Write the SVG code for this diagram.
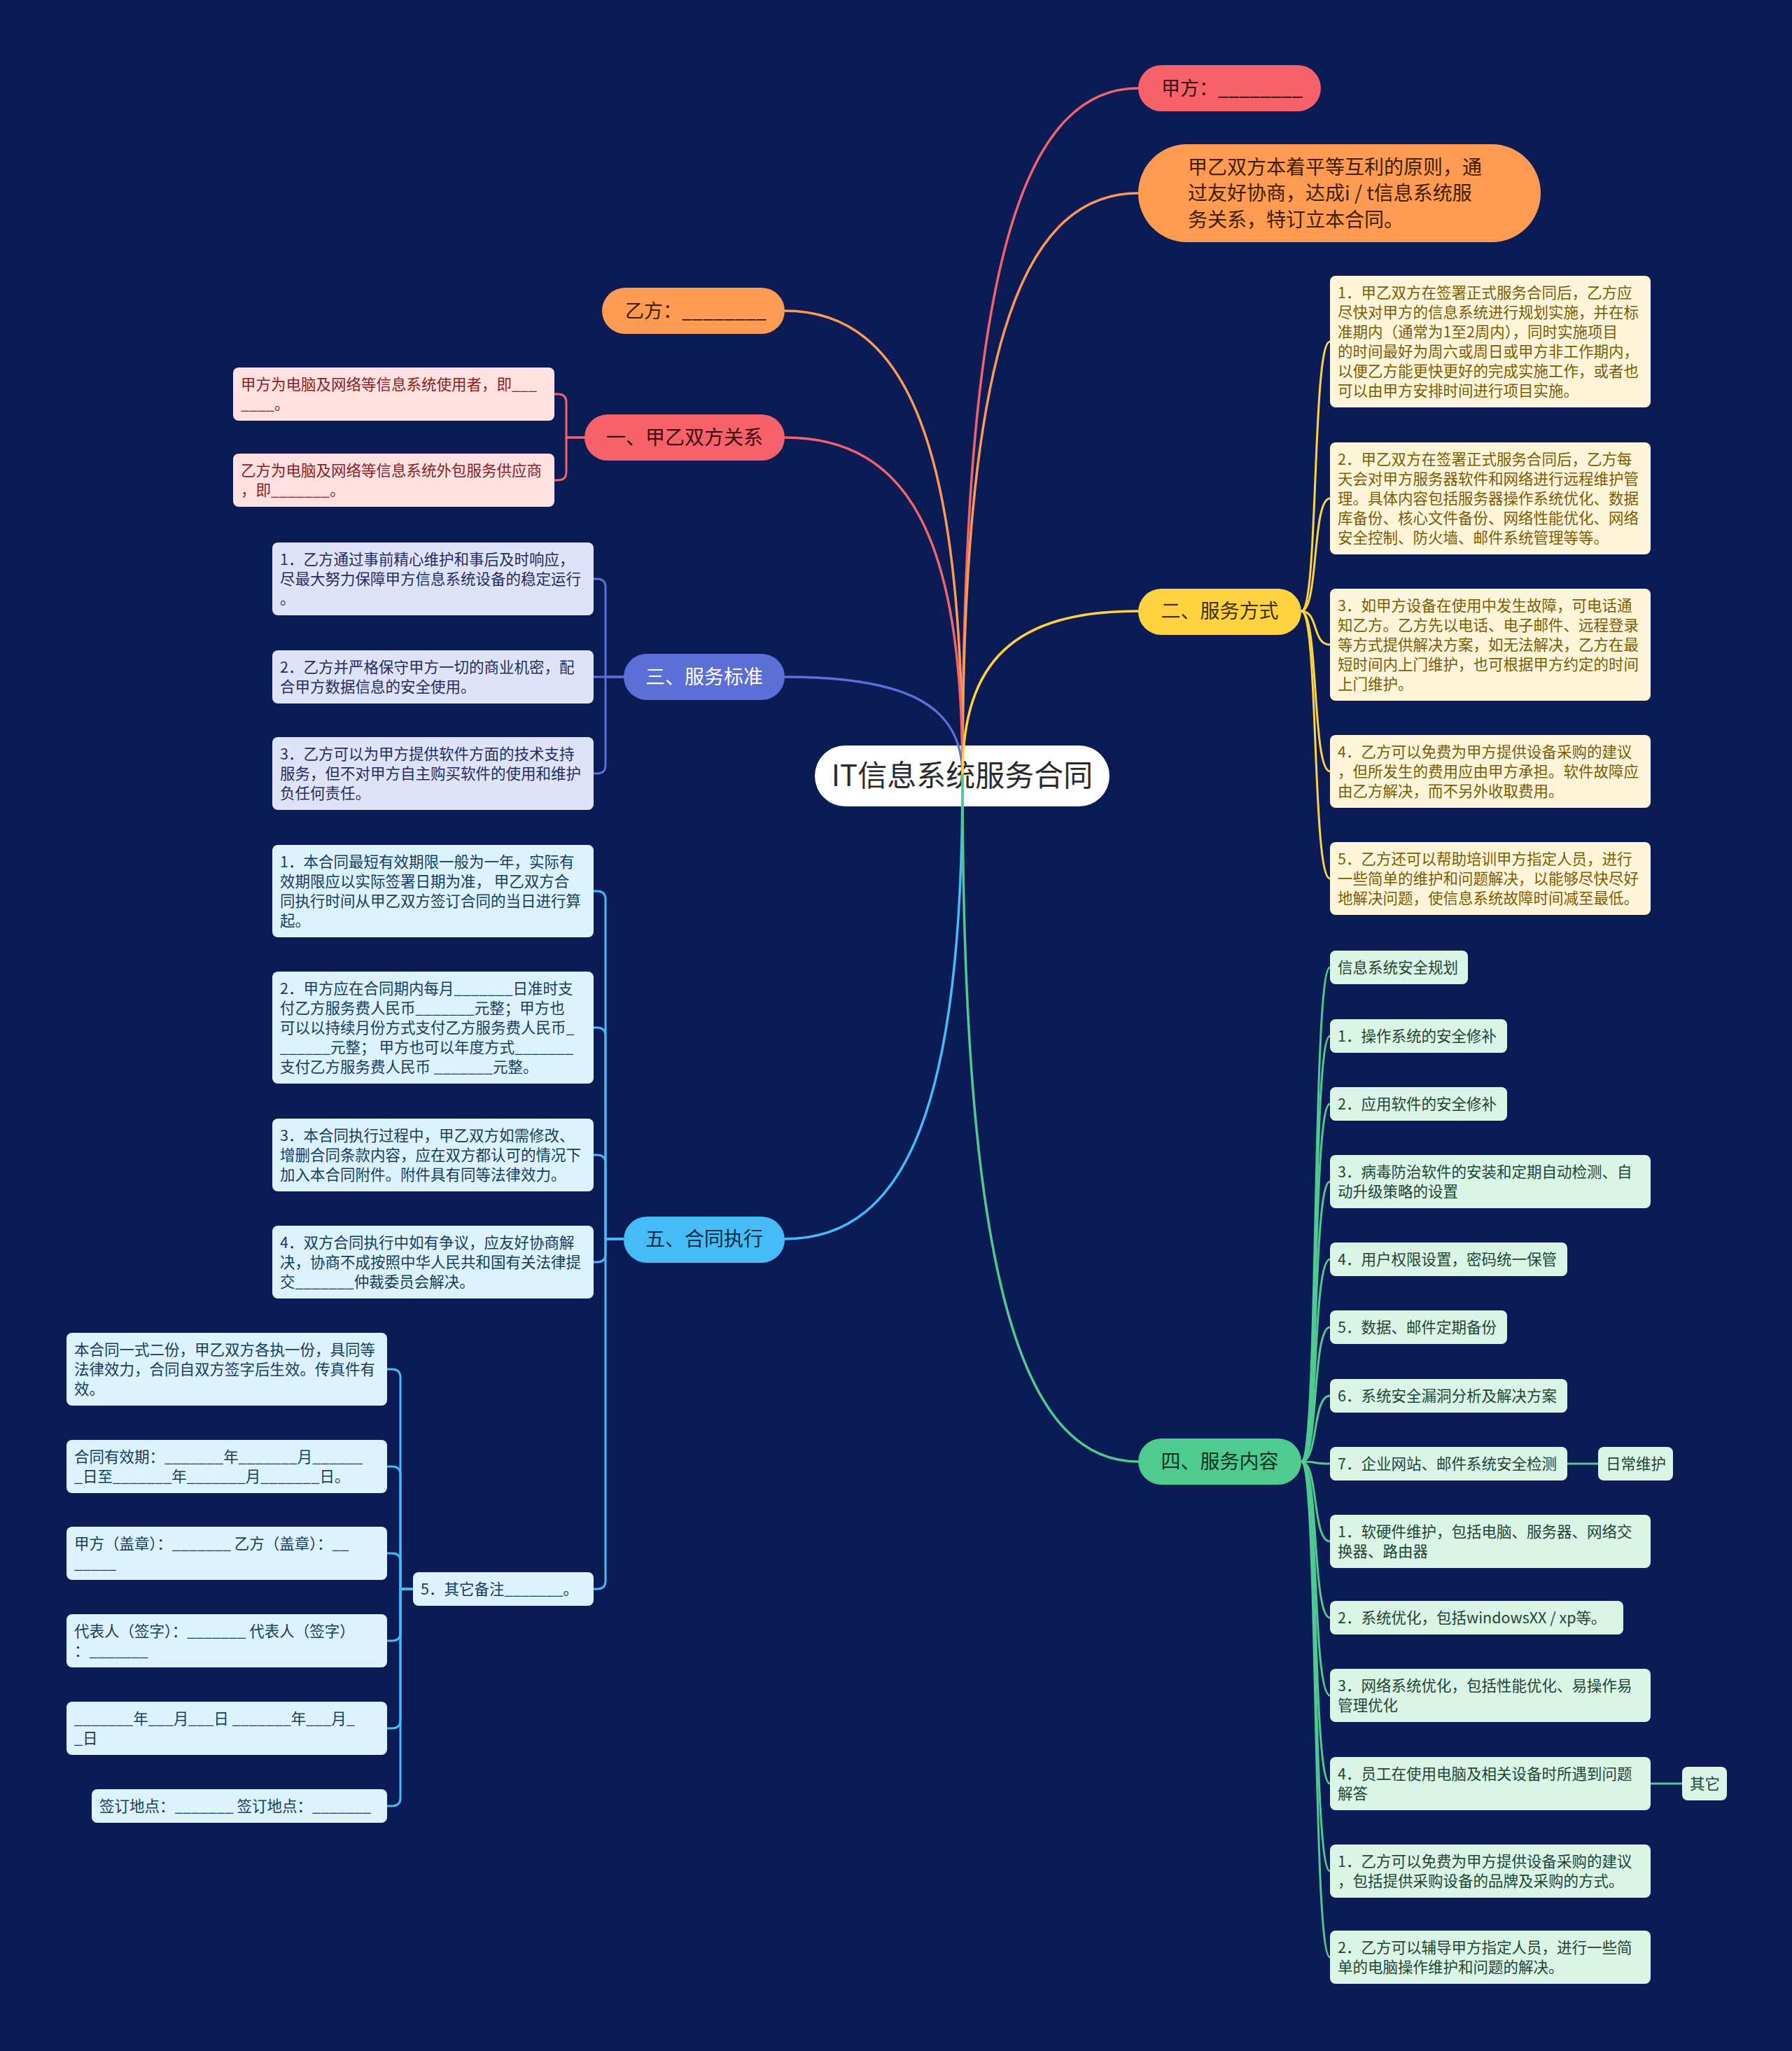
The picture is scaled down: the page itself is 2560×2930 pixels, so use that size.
<svg xmlns="http://www.w3.org/2000/svg" width="2560" height="2930" viewBox="0 0 2560 2930">
<style>
text{font-family:"Noto Sans CJK SC","Noto Sans",sans-serif;}
.bx{font-size:21.5px;}
.nd{font-size:28px;}
.ln{fill:none;stroke-width:3.5;stroke-linecap:round;}
.sl{fill:none;stroke-width:3;stroke-linecap:round;}
.red{stroke:#F2646A;} .org{stroke:#FF9A52;} .pur{stroke:#5C6FD6;} .cy{stroke:#45BCF5;} .yel{stroke:#FFD23F;} .grn{stroke:#4FCB90;}
.fy{fill:#FFE1E2;} .ty{fill:#8A1E1E;}
.fs{fill:#DFE3F7;} .ts{fill:#1F2D63;}
.fw{fill:#DCF3FD;} .tw{fill:#163C5E;}
.fe{fill:#FFF6DA;} .te{fill:#7C5B05;}
.fg{fill:#DAF4E6;} .tg{fill:#1E4636;}
</style>
<rect x="0" y="0" width="2560" height="2930" fill="#0B1B56"/>

<g id="center">
<rect x="1164" y="1065" width="421" height="87" rx="43.5" fill="#FFFFFF"/>
<text x="1374.5" y="1123" text-anchor="middle" font-size="42" fill="#2A2A2A">IT信息系统服务合同</text>
</g>

<g id="connectors">
<path class="ln red" d="M1375 1108 C1375 421 1450 126 1626 126"/>
<path class="ln org" d="M1375 1108 C1375 526 1450 276 1626 276"/>
<path class="ln org" d="M1375 1108 C1375 643 1299 444 1121 444"/>
<path class="ln red" d="M1375 1108 C1375 770 1299 625 1121 625"/>
<path class="ln pur" d="M1375 1108 C1375 1009 1299 967 1121 967"/>
<path class="ln yel" d="M1375 1108 C1375 943 1450 873 1626 873"/>
<path class="ln cy" d="M1375 1108 C1375 1571 1299 1770 1121 1770"/>
<path class="ln grn" d="M1375 1108 C1375 1794 1450 2088 1626 2088"/>

<path class="sl red" d="M835 625 H809 V575 Q809 563 797 563 H792"/>
<path class="sl red" d="M835 625 H809 V674 Q809 686 797 686 H792"/>

<path class="sl pur" d="M891 967 H865 V839 Q865 827 853 827 H848"/>
<path class="sl pur" d="M891 967 H848"/>
<path class="sl pur" d="M891 967 H865 V1093 Q865 1105 853 1105 H848"/>

<path class="sl cy" d="M891 1770 H865 V1285 Q865 1273 853 1273 H848"/>
<path class="sl cy" d="M891 1770 H865 V1480 Q865 1468 853 1468 H848"/>
<path class="sl cy" d="M891 1770 H865 V1662 Q865 1650 853 1650 H848"/>
<path class="sl cy" d="M891 1770 H865 V1791 Q865 1803 853 1803 H848"/>
<path class="sl cy" d="M891 1770 H865 V2258 Q865 2270 853 2270 H848"/>

<path class="sl cy" d="M590 2270 H572 V1968 Q572 1956 560 1956 H553"/>
<path class="sl cy" d="M590 2270 H572 V2107 Q572 2095 560 2095 H553"/>
<path class="sl cy" d="M590 2270 H572 V2231 Q572 2219 560 2219 H553"/>
<path class="sl cy" d="M590 2270 H572 V2332 Q572 2344 560 2344 H553"/>
<path class="sl cy" d="M590 2270 H572 V2457 Q572 2469 560 2469 H553"/>
<path class="sl cy" d="M590 2270 H572 V2568 Q572 2580 560 2580 H553"/>

<path class="sl yel" d="M1859 873 C1884 873 1874 488 1900 488"/>
<path class="sl yel" d="M1859 873 C1884 873 1874 712 1900 712"/>
<path class="sl yel" d="M1859 873 C1884 873 1874 921 1900 921"/>
<path class="sl yel" d="M1859 873 C1884 873 1874 1102 1900 1102"/>
<path class="sl yel" d="M1859 873 C1884 873 1874 1255 1900 1255"/>

<path class="sl grn" d="M1859 2088 C1884 2088 1874 1382 1900 1382"/>
<path class="sl grn" d="M1859 2088 C1884 2088 1874 1480 1900 1480"/>
<path class="sl grn" d="M1859 2088 C1884 2088 1874 1577 1900 1577"/>
<path class="sl grn" d="M1859 2088 C1884 2088 1874 1688 1900 1688"/>
<path class="sl grn" d="M1859 2088 C1884 2088 1874 1799 1900 1799"/>
<path class="sl grn" d="M1859 2088 C1884 2088 1874 1896 1900 1896"/>
<path class="sl grn" d="M1859 2088 C1884 2088 1874 1994 1900 1994"/>
<path class="sl grn" d="M1859 2088 C1884 2088 1874 2091 1900 2091"/>
<path class="sl grn" d="M1859 2088 C1884 2088 1874 2202 1900 2202"/>
<path class="sl grn" d="M1859 2088 C1884 2088 1874 2311 1900 2311"/>
<path class="sl grn" d="M1859 2088 C1884 2088 1874 2422 1900 2422"/>
<path class="sl grn" d="M1859 2088 C1884 2088 1874 2548 1900 2548"/>
<path class="sl grn" d="M1859 2088 C1884 2088 1874 2673 1900 2673"/>
<path class="sl grn" d="M1859 2088 C1884 2088 1874 2796 1900 2796"/>
<path class="sl grn" d="M2239 2091 H2283"/>
<path class="sl grn" d="M2358 2548 H2403"/>
</g>

<g id="n-jiafang">
<rect x="1626" y="93" width="261" height="66" rx="33" fill="#F6616A"/>
<text x="1659" y="136" font-size="27" fill="#3A0B0E">甲方：________</text>
</g>
<g id="n-intro">
<rect x="1626" y="206" width="575" height="140" rx="70" fill="#FF9A52"/>
<text class="nd" fill="#3D1F00"><tspan x="1697" y="248.5">甲乙双方本着平等互利的原则，通</tspan><tspan x="1697" y="286">过友好协商，达成i / t信息系统服</tspan><tspan x="1697" y="323.5">务关系，特订立本合同。</tspan></text>
</g>
<g id="n-yifang">
<rect x="860" y="411" width="261" height="66" rx="33" fill="#FF9A52"/>
<text x="893" y="454" font-size="27" fill="#3D1F00">乙方：________</text>
</g>
<g id="n-1">
<rect x="835" y="592" width="286" height="66" rx="33" fill="#F6616A"/>
<text class="nd" x="978" y="635" text-anchor="middle" fill="#3A0B0E">一、甲乙双方关系</text>
</g>
<g id="n-3">
<rect x="891" y="934" width="230" height="66" rx="33" fill="#5C6FD6"/>
<text class="nd" x="1006" y="977" text-anchor="middle" fill="#FFFFFF">三、服务标准</text>
</g>
<g id="n-5">
<rect x="891" y="1738" width="230" height="66" rx="33" fill="#45BCF5"/>
<text class="nd" x="1006" y="1780" text-anchor="middle" fill="#0D2B45">五、合同执行</text>
</g>
<g id="n-2">
<rect x="1626" y="841" width="233" height="66" rx="33" fill="#FFD23F"/>
<text class="nd" x="1742.5" y="883" text-anchor="middle" fill="#3E2F00">二、服务方式</text>
</g>
<g id="n-4">
<rect x="1626" y="2055" width="233" height="66" rx="33" fill="#4FCB90"/>
<text class="nd" x="1742.5" y="2098" text-anchor="middle" fill="#0E3324">四、服务内容</text>
</g>

<g id="n-1-1"><rect class="fy" x="333" y="525" width="459" height="76" rx="8"/>
<text class="bx ty"><tspan x="344" y="557">甲方为电脑及网络等信息系统使用者，即___</tspan><tspan x="344" y="585">____。</tspan></text></g>
<g id="n-1-2"><rect class="fy" x="333" y="648" width="459" height="76" rx="8"/>
<text class="bx ty"><tspan x="344" y="680">乙方为电脑及网络等信息系统外包服务供应商</tspan><tspan x="344" y="708">，即_______。</tspan></text></g>

<g id="n-3-1"><rect class="fs" x="389" y="775" width="459" height="104" rx="8"/>
<text class="bx ts"><tspan x="400" y="807">1．乙方通过事前精心维护和事后及时响应，</tspan><tspan x="400" y="835">尽最大努力保障甲方信息系统设备的稳定运行</tspan><tspan x="400" y="863">。</tspan></text></g>
<g id="n-3-2"><rect class="fs" x="389" y="929" width="459" height="76" rx="8"/>
<text class="bx ts"><tspan x="400" y="961">2．乙方并严格保守甲方一切的商业机密，配</tspan><tspan x="400" y="989">合甲方数据信息的安全使用。</tspan></text></g>
<g id="n-3-3"><rect class="fs" x="389" y="1053" width="459" height="104" rx="8"/>
<text class="bx ts"><tspan x="400" y="1085">3．乙方可以为甲方提供软件方面的技术支持</tspan><tspan x="400" y="1113">服务，但不对甲方自主购买软件的使用和维护</tspan><tspan x="400" y="1141">负任何责任。</tspan></text></g>

<g id="n-5-1"><rect class="fw" x="389" y="1207" width="459" height="132" rx="8"/>
<text class="bx tw"><tspan x="400" y="1239">1．本合同最短有效期限一般为一年，实际有</tspan><tspan x="400" y="1267">效期限应以实际签署日期为准， 甲乙双方合</tspan><tspan x="400" y="1295">同执行时间从甲乙双方签订合同的当日进行算</tspan><tspan x="400" y="1323">起。</tspan></text></g>
<g id="n-5-2"><rect class="fw" x="389" y="1388" width="459" height="160" rx="8"/>
<text class="bx tw"><tspan x="400" y="1420">2．甲方应在合同期内每月_______日准时支</tspan><tspan x="400" y="1448">付乙方服务费人民币_______元整；甲方也</tspan><tspan x="400" y="1476">可以以持续月份方式支付乙方服务费人民币_</tspan><tspan x="400" y="1504">______元整； 甲方也可以年度方式_______</tspan><tspan x="400" y="1532">支付乙方服务费人民币 _______元整。</tspan></text></g>
<g id="n-5-3"><rect class="fw" x="389" y="1598" width="459" height="104" rx="8"/>
<text class="bx tw"><tspan x="400" y="1630">3．本合同执行过程中，甲乙双方如需修改、</tspan><tspan x="400" y="1658">增删合同条款内容，应在双方都认可的情况下</tspan><tspan x="400" y="1686">加入本合同附件。附件具有同等法律效力。</tspan></text></g>
<g id="n-5-4"><rect class="fw" x="389" y="1751" width="459" height="104" rx="8"/>
<text class="bx tw"><tspan x="400" y="1783">4．双方合同执行中如有争议，应友好协商解</tspan><tspan x="400" y="1811">决，协商不成按照中华人民共和国有关法律提</tspan><tspan x="400" y="1839">交_______仲裁委员会解决。</tspan></text></g>
<g id="n-5-5"><rect class="fw" x="590" y="2246" width="258" height="48" rx="8"/>
<text class="bx tw" x="601" y="2278">5．其它备注_______。</text></g>

<g id="n-5-5-1"><rect class="fw" x="95" y="1904" width="458" height="104" rx="8"/>
<text class="bx tw"><tspan x="106" y="1936">本合同一式二份，甲乙双方各执一份，具同等</tspan><tspan x="106" y="1964">法律效力，合同自双方签字后生效。传真件有</tspan><tspan x="106" y="1992">效。</tspan></text></g>
<g id="n-5-5-2"><rect class="fw" x="95" y="2057" width="458" height="76" rx="8"/>
<text class="bx tw"><tspan x="106" y="2089">合同有效期：_______年_______月______</tspan><tspan x="106" y="2117">_日至_______年_______月_______日。</tspan></text></g>
<g id="n-5-5-3"><rect class="fw" x="95" y="2181" width="458" height="76" rx="8"/>
<text class="bx tw"><tspan x="106" y="2213">甲方（盖章）：_______ 乙方（盖章）：__</tspan><tspan x="106" y="2241">_____</tspan></text></g>
<g id="n-5-5-4"><rect class="fw" x="95" y="2306" width="458" height="76" rx="8"/>
<text class="bx tw"><tspan x="106" y="2338">代表人（签字）：_______ 代表人（签字）</tspan><tspan x="106" y="2366">：_______</tspan></text></g>
<g id="n-5-5-5"><rect class="fw" x="95" y="2431" width="458" height="76" rx="8"/>
<text class="bx tw"><tspan x="106" y="2463">_______年___月___日 _______年___月_</tspan><tspan x="106" y="2491">_日</tspan></text></g>
<g id="n-5-5-6"><rect class="fw" x="131" y="2556" width="422" height="48" rx="8"/>
<text class="bx tw" x="142" y="2588">签订地点：_______ 签订地点：_______</text></g>

<g id="n-2-1"><rect class="fe" x="1900" y="394" width="458" height="188" rx="8"/>
<text class="bx te"><tspan x="1911" y="426">1．甲乙双方在签署正式服务合同后，乙方应</tspan><tspan x="1911" y="454">尽快对甲方的信息系统进行规划实施，并在标</tspan><tspan x="1911" y="482">准期内（通常为1至2周内），同时实施项目</tspan><tspan x="1911" y="510">的时间最好为周六或周日或甲方非工作期内，</tspan><tspan x="1911" y="538">以便乙方能更快更好的完成实施工作，或者也</tspan><tspan x="1911" y="566">可以由甲方安排时间进行项目实施。</tspan></text></g>
<g id="n-2-2"><rect class="fe" x="1900" y="632" width="458" height="160" rx="8"/>
<text class="bx te"><tspan x="1911" y="664">2．甲乙双方在签署正式服务合同后，乙方每</tspan><tspan x="1911" y="692">天会对甲方服务器软件和网络进行远程维护管</tspan><tspan x="1911" y="720">理。具体内容包括服务器操作系统优化、数据</tspan><tspan x="1911" y="748">库备份、核心文件备份、网络性能优化、网络</tspan><tspan x="1911" y="776">安全控制、防火墙、邮件系统管理等等。</tspan></text></g>
<g id="n-2-3"><rect class="fe" x="1900" y="841" width="458" height="160" rx="8"/>
<text class="bx te"><tspan x="1911" y="873">3．如甲方设备在使用中发生故障，可电话通</tspan><tspan x="1911" y="901">知乙方。乙方先以电话、电子邮件、远程登录</tspan><tspan x="1911" y="929">等方式提供解决方案，如无法解决，乙方在最</tspan><tspan x="1911" y="957">短时间内上门维护，也可根据甲方约定的时间</tspan><tspan x="1911" y="985">上门维护。</tspan></text></g>
<g id="n-2-4"><rect class="fe" x="1900" y="1050" width="458" height="104" rx="8"/>
<text class="bx te"><tspan x="1911" y="1082">4．乙方可以免费为甲方提供设备采购的建议</tspan><tspan x="1911" y="1110">，但所发生的费用应由甲方承担。软件故障应</tspan><tspan x="1911" y="1138">由乙方解决，而不另外收取费用。</tspan></text></g>
<g id="n-2-5"><rect class="fe" x="1900" y="1203" width="458" height="104" rx="8"/>
<text class="bx te"><tspan x="1911" y="1235">5．乙方还可以帮助培训甲方指定人员，进行</tspan><tspan x="1911" y="1263">一些简单的维护和问题解决，以能够尽快尽好</tspan><tspan x="1911" y="1291">地解决问题，使信息系统故障时间减至最低。</tspan></text></g>

<g id="n-4-1"><rect class="fg" x="1900" y="1358" width="197" height="48" rx="8"/>
<text class="bx tg" x="1911" y="1390">信息系统安全规划</text></g>
<g id="n-4-2"><rect class="fg" x="1900" y="1456" width="253" height="48" rx="8"/>
<text class="bx tg" x="1911" y="1488">1．操作系统的安全修补</text></g>
<g id="n-4-3"><rect class="fg" x="1900" y="1553" width="253" height="48" rx="8"/>
<text class="bx tg" x="1911" y="1585">2．应用软件的安全修补</text></g>
<g id="n-4-4"><rect class="fg" x="1900" y="1650" width="458" height="76" rx="8"/>
<text class="bx tg"><tspan x="1911" y="1682">3．病毒防治软件的安装和定期自动检测、自</tspan><tspan x="1911" y="1710">动升级策略的设置</tspan></text></g>
<g id="n-4-5"><rect class="fg" x="1900" y="1775" width="339" height="48" rx="8"/>
<text class="bx tg" x="1911" y="1807">4．用户权限设置，密码统一保管</text></g>
<g id="n-4-6"><rect class="fg" x="1900" y="1872" width="253" height="48" rx="8"/>
<text class="bx tg" x="1911" y="1904">5．数据、邮件定期备份</text></g>
<g id="n-4-7"><rect class="fg" x="1900" y="1970" width="339" height="48" rx="8"/>
<text class="bx tg" x="1911" y="2002">6．系统安全漏洞分析及解决方案</text></g>
<g id="n-4-8"><rect class="fg" x="1900" y="2067" width="339" height="48" rx="8"/>
<text class="bx tg" x="1911" y="2099">7．企业网站、邮件系统安全检测</text></g>
<g id="n-4-8-1"><rect class="fg" x="2283" y="2067" width="107" height="48" rx="8"/>
<text class="bx tg" x="2294" y="2099">日常维护</text></g>
<g id="n-4-9"><rect class="fg" x="1900" y="2164" width="458" height="76" rx="8"/>
<text class="bx tg"><tspan x="1911" y="2196">1．软硬件维护，包括电脑、服务器、网络交</tspan><tspan x="1911" y="2224">换器、路由器</tspan></text></g>
<g id="n-4-10"><rect class="fg" x="1900" y="2287" width="419" height="48" rx="8"/>
<text class="bx tg" x="1911" y="2319">2．系统优化，包括windowsXX / xp等。</text></g>
<g id="n-4-11"><rect class="fg" x="1900" y="2384" width="458" height="76" rx="8"/>
<text class="bx tg"><tspan x="1911" y="2416">3．网络系统优化，包括性能优化、易操作易</tspan><tspan x="1911" y="2444">管理优化</tspan></text></g>
<g id="n-4-12"><rect class="fg" x="1900" y="2510" width="458" height="76" rx="8"/>
<text class="bx tg"><tspan x="1911" y="2542">4．员工在使用电脑及相关设备时所遇到问题</tspan><tspan x="1911" y="2570">解答</tspan></text></g>
<g id="n-4-12-1"><rect class="fg" x="2403" y="2524" width="64" height="48" rx="8"/>
<text class="bx tg" x="2414" y="2556">其它</text></g>
<g id="n-4-13"><rect class="fg" x="1900" y="2635" width="458" height="76" rx="8"/>
<text class="bx tg"><tspan x="1911" y="2667">1．乙方可以免费为甲方提供设备采购的建议</tspan><tspan x="1911" y="2695">，包括提供采购设备的品牌及采购的方式。</tspan></text></g>
<g id="n-4-14"><rect class="fg" x="1900" y="2758" width="458" height="76" rx="8"/>
<text class="bx tg"><tspan x="1911" y="2790">2．乙方可以辅导甲方指定人员，进行一些简</tspan><tspan x="1911" y="2818">单的电脑操作维护和问题的解决。</tspan></text></g>
</svg>
